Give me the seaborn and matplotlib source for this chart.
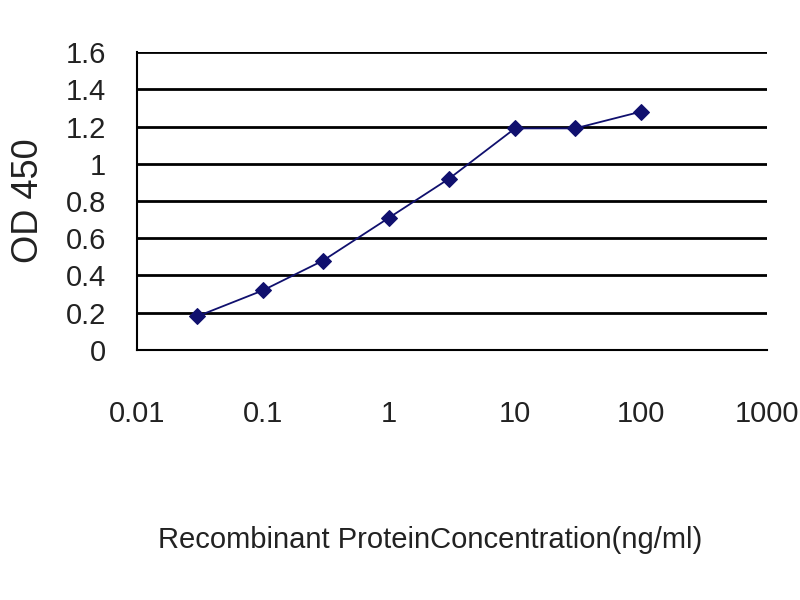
import matplotlib
matplotlib.use("Agg")
import matplotlib.pyplot as plt
import seaborn as sns
import pandas as pd

# values
concentration = [0.03, 0.1, 0.3, 1, 3, 10, 30, 100]
od450 = [0.18, 0.32, 0.48, 0.71, 0.92, 1.19, 1.19, 1.28]
y_ticks = [0, 0.2, 0.4, 0.6, 0.8, 1, 1.2, 1.4, 1.6]
y_tick_labels = ["0", "0.2", "0.4", "0.6", "0.8", "1", "1.2", "1.4", "1.6"]
x_ticks = [0.01, 0.1, 1, 10, 100, 1000]
x_tick_labels = ["0.01", "0.1", "1", "10", "100", "1000"]

df = pd.DataFrame({"conc": concentration, "od": od450})

sns.set_style("white")
plt.rcParams["font.family"] = ["Liberation Sans", "DejaVu Sans"]

fig = plt.figure(figsize=(8, 6), dpi=100)
ax = fig.add_axes([0.171, 0.4167, 0.788, 0.4966])

sns.lineplot(data=df, x="conc", y="od", ax=ax, color="#10106e", linewidth=1.3,
             marker="D", markersize=8, markeredgecolor="#10106e")

ax.set_xscale("log")
ax.set_xlim(0.01, 1000)
ax.set_ylim(0, 1.6)
ax.set_yticks(y_ticks)
ax.set_yticklabels(y_tick_labels, fontsize=21, color="#222222")
ax.set_xticks(x_ticks)
ax.set_xticklabels(x_tick_labels, fontsize=21, color="#222222")
ax.minorticks_off()

for y in y_ticks[1:]:
    ax.axhline(y, color="black", linewidth=2, zorder=0)

for side in ["top", "right"]:
    ax.spines[side].set_visible(False)
for side in ["left", "bottom"]:
    ax.spines[side].set_color("black")
    ax.spines[side].set_linewidth(1.5)

ax.tick_params(axis="x", direction="in", length=10, width=1.5, pad=36, color="black")
ax.tick_params(axis="y", length=0, pad=22)

ax.set_xlabel("Recombinant ProteinConcentration(ng/ml)", fontsize=21, color="#222222")
ax.xaxis.set_label_coords(0.465, -0.59)
ax.set_ylabel("OD 450", fontsize=26, labelpad=14, color="#222222")
ax.grid(False)

fig.savefig("out.png", dpi=100, facecolor="white")
